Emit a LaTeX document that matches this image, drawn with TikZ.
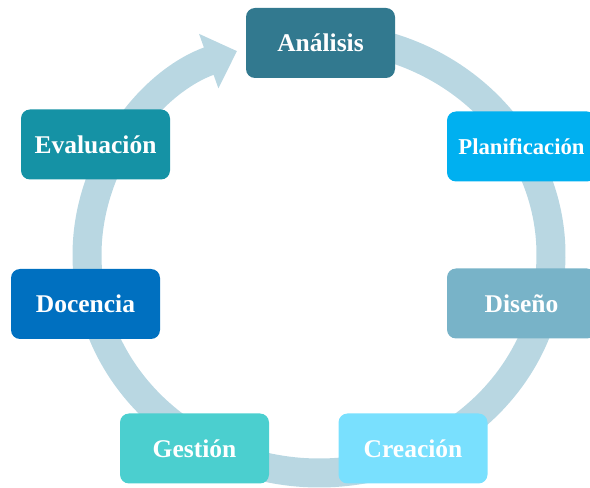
\documentclass[tikz,border=0pt]{standalone}
\usepackage{fontspec}
\setmainfont{Liberation Serif}
\usepackage{tikz}
\usetikzlibrary{arrows.meta}
\definecolor{ringBlue}{HTML}{B9D7E2}
\definecolor{anTeal}{HTML}{32798F}
\definecolor{plBlue}{HTML}{00B0F0}
\definecolor{diSteel}{HTML}{78B3C8}
\definecolor{crSky}{HTML}{79E0FE}
\definecolor{geAqua}{HTML}{4BCFCF}
\definecolor{doBlue}{HTML}{0070C0}
\definecolor{evTeal}{HTML}{1592A5}

\begin{document}
\begin{tikzpicture}[
  x=1pt, y=1pt,
  stage/.style={rounded corners=9pt, minimum height=70pt, minimum width=149pt, align=center, text=white, font=\bfseries\fontsize{25.5}{30}\selectfont},
  ring/.style={draw=ringBlue, line width=29pt, -{Triangle[width=56pt, length=30pt]}}
]
  \useasboundingbox (0,0) rectangle (590,488);

  % The cycle: one elliptic ring, arrow head just before Analisis
  \coordinate (hub) at (319,233);
  \draw[ring] (hub) ++(85:232 and 218) arc[start angle=85, end angle=-249.3, x radius=232, y radius=218];

  % Stages, clockwise from the top
  \node[stage, fill=anTeal]  at (320.5,445) (ana) {Análisis};
  \node[stage, fill=plBlue, font=\bfseries\fontsize{22.7}{27}\selectfont]
                             at (521.5,341.5) (pla) {Planificación};
  \node[stage, fill=diSteel] at (521.5,184.5) (dis) {Diseño};
  \node[stage, fill=crSky]   at (413,39.5)   (cre) {Creación};
  \node[stage, fill=geAqua]  at (194.5,39.5) (ges) {Gestión};
  \node[stage, fill=doBlue]  at (85.5,184)   (doc) {Docencia};
  \node[stage, fill=evTeal]  at (95.5,343.5) (eva) {Evaluación};
\end{tikzpicture}
\end{document}
